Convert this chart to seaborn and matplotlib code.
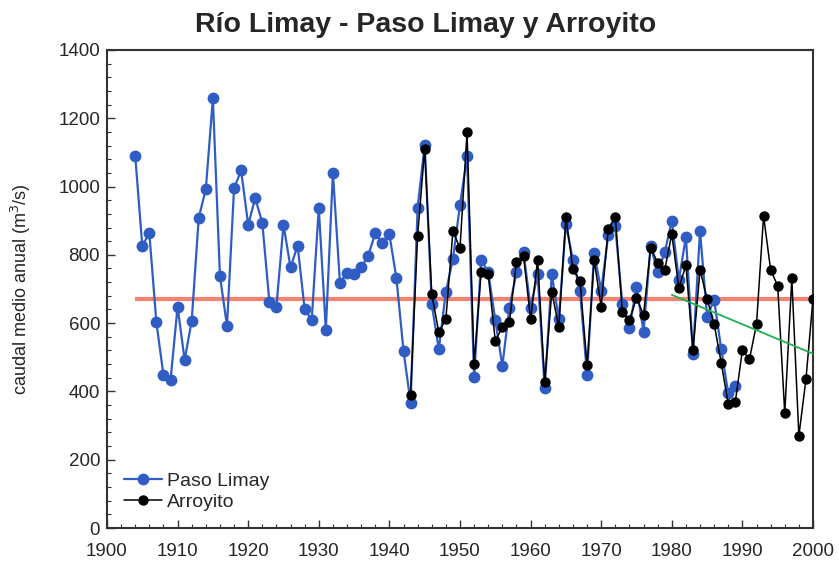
import numpy as np
import pandas as pd
import matplotlib
matplotlib.use("Agg")
import matplotlib.pyplot as plt
from matplotlib.ticker import MultipleLocator
import seaborn as sns

# Annual mean discharge (m3/s), Río Limay
paso_years = list(range(1904, 1990))
paso_limay = [
    1090, 827, 863, 602, 448, 432, 648, 492, 607, 909,
    992, 1258, 738, 592, 995, 1047, 888, 966, 894, 663,
    648, 888, 763, 827, 641, 609, 938, 580, 1041, 717,
    748, 744, 763, 798, 863, 834, 860, 731, 519, 367,
    938, 1122, 656, 523, 692, 787, 946, 1088, 441, 785,
    749, 609, 475, 645, 749, 807, 645, 743, 409, 743,
    612, 890, 785, 695, 448, 806, 695, 858, 883, 656,
    585, 707, 575, 827, 749, 807, 900, 726, 853, 510,
    870, 619, 668, 524, 394, 416,
]

arroyito_years = list(range(1943, 2001))
arroyito = [
    390, 856, 1110, 685, 573, 612, 870, 819, 1159, 480,
    751, 743, 548, 588, 602, 780, 797, 612, 785, 427,
    692, 588, 910, 759, 723, 477, 785, 648, 876, 910,
    632, 609, 673, 624, 821, 777, 756, 861, 702, 770,
    521, 756, 671, 597, 484, 363, 370, 521, 494, 597,
    914, 756, 709, 336, 731, 270, 435, 671,
]

trend_start = 1980
x_ticks = [1900, 1910, 1920, 1930, 1940, 1950, 1960, 1970, 1980, 1990, 2000]
y_ticks = [0, 200, 400, 600, 800, 1000, 1200, 1400]

df_paso = pd.DataFrame({"year": paso_years, "caudal": paso_limay})
df_arr = pd.DataFrame({"year": arroyito_years, "caudal": arroyito})

sns.set_theme(style="white")
plt.rcParams["font.family"] = ["Liberation Sans", "DejaVu Sans"]

fig = plt.figure(figsize=(8.39, 5.61), dpi=100)
ax = fig.add_axes([0.1275, 0.0588, 0.8415, 0.8522])

blue = "#2F5DC4"

# long-term mean of the Arroyito record
mean_arr = float(np.mean(arroyito))
ax.hlines(mean_arr, paso_years[0], 2000, color="#F4826E", lw=3.0, zorder=1)

sns.lineplot(data=df_paso, x="year", y="caudal", ax=ax, color=blue,
             lw=1.6, marker="o", markersize=8.5, markeredgewidth=0,
             markerfacecolor=blue, label="Paso Limay", zorder=2)
sns.lineplot(data=df_arr, x="year", y="caudal", ax=ax, color="black",
             lw=1.1, marker="o", markersize=7.5, markeredgewidth=0,
             markerfacecolor="black", label="Arroyito", zorder=3)

# linear trend of the Arroyito record since 1980
sub = df_arr[df_arr["year"] >= trend_start]
coef = np.polyfit(sub["year"], sub["caudal"], 1)
tx = np.array([trend_start, 2000])
ax.plot(tx, np.polyval(coef, tx), color="#1FAF55", lw=1.3, zorder=4)

ax.set_xlim(1900, 2000)
ax.set_ylim(0, 1400)
ax.set_xticks(x_ticks)
ax.set_yticks(y_ticks)
ax.xaxis.set_minor_locator(MultipleLocator(2))
ax.yaxis.set_minor_locator(MultipleLocator(40))
ax.tick_params(axis="both", which="major", direction="in", length=6,
               width=1.0, color="#333333", labelsize=13.5,
               top=False, right=False, bottom=True, left=True)
ax.tick_params(axis="x", which="major", pad=11)
ax.tick_params(axis="y", which="major", pad=5)
ax.tick_params(axis="both", which="minor", direction="in", length=3,
               width=0.8, color="#333333", top=False, right=False,
               bottom=True, left=True)
for s in ax.spines.values():
    s.set_color("#333333")
    s.set_linewidth(1.5)

ax.set_xlabel("")
ax.set_ylabel("caudal medio anual (m$^3$/s)", fontsize=13, labelpad=18)
fig.suptitle("Río Limay - Paso Limay y Arroyito", fontsize=20.5,
             fontweight="bold", x=0.507, y=0.955, va="center")

leg = ax.legend(loc="lower left", frameon=False, fontsize=14,
                handlelength=1.95, borderaxespad=0.5, labelspacing=0.15,
                handletextpad=0.25)

fig.savefig("out.png", dpi=100)
